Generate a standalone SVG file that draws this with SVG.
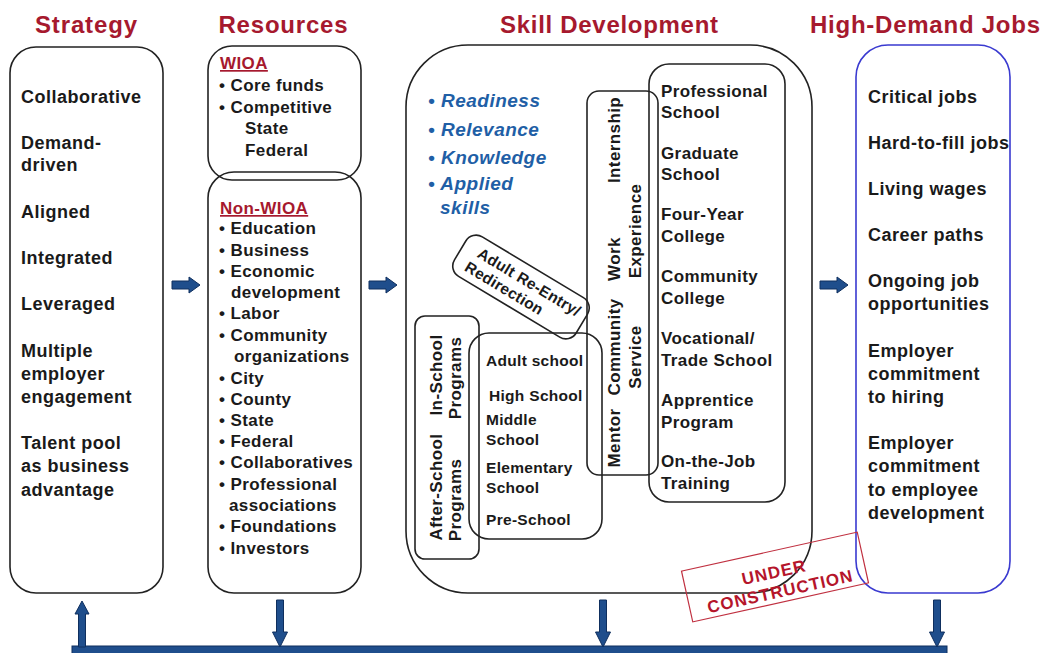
<svg xmlns="http://www.w3.org/2000/svg" xmlns:xlink="http://www.w3.org/1999/xlink" width="1046" height="653" viewBox="0 0 1046 653">
<style>
.hd{font-family:"Liberation Sans",Arial,sans-serif;font-weight:bold;font-size:24px;fill:#a6192e;text-anchor:middle}
.t{font-family:"Liberation Sans",Arial,sans-serif;font-weight:bold;font-size:18px;fill:#1a1a1a;letter-spacing:0.5px}
.r{font-family:"Liberation Sans",Arial,sans-serif;font-weight:bold;font-size:17px;fill:#1a1a1a;letter-spacing:0.4px}
.s{font-family:"Liberation Sans",Arial,sans-serif;font-weight:bold;font-size:15.5px;fill:#1a1a1a;letter-spacing:0.3px}
.v{font-family:"Liberation Sans",Arial,sans-serif;font-weight:bold;font-size:17px;fill:#1a1a1a;letter-spacing:0.4px;text-anchor:middle}
.red{fill:#a6192e;text-decoration:underline}
.bl{font-family:"Liberation Sans",Arial,sans-serif;font-weight:bold;font-style:italic;font-size:19px;fill:#1f5fa6;letter-spacing:0.5px}
.box{fill:none;stroke:#222;stroke-width:1.6}
.bbox{fill:none;stroke:#3a3ad0;stroke-width:1.6}
.arr{fill:#1f4e8c;stroke:#0f2f5e;stroke-width:1}
.stamp{font-family:"Liberation Sans",Arial,sans-serif;font-weight:bold;font-size:17px;fill:#b5152b;letter-spacing:1px;text-anchor:middle}
</style>
<defs>
<path id="harrow" d="M0,-4 H17 V-8 L28,0 L17,8 V4 H0 Z"/>
<path id="darrow" d="M-3.5,0 V32 H-7.5 L0,47 L7.5,32 H3.5 V0 Z"/>
</defs>
<rect width="1046" height="653" fill="#fff"/>

<g id="headings">
<text class="hd" x="86" y="33" textLength="102" lengthAdjust="spacing">Strategy</text>
<text class="hd" x="283" y="33" textLength="129" lengthAdjust="spacing">Resources</text>
<text class="hd" x="609" y="33" textLength="218" lengthAdjust="spacing">Skill Development</text>
<text class="hd" x="925" y="33" textLength="230" lengthAdjust="spacing">High-Demand  Jobs</text>
</g>

<g id="strategy">
<rect class="box" x="10" y="47" width="153" height="546" rx="26"/>
<text class="t" x="21" y="103">Collaborative</text>
<text class="t" x="21" y="149">Demand-</text>
<text class="t" x="21" y="171">driven</text>
<text class="t" x="21" y="218">Aligned</text>
<text class="t" x="21" y="264">Integrated</text>
<text class="t" x="21" y="310">Leveraged</text>
<text class="t" x="21" y="357">Multiple</text>
<text class="t" x="21" y="380">employer</text>
<text class="t" x="21" y="403">engagement</text>
<text class="t" x="21" y="449">Talent pool</text>
<text class="t" x="21" y="472">as business</text>
<text class="t" x="21" y="496">advantage</text>
</g>

<g id="wioa">
<rect class="box" x="208" y="46" width="153" height="134" rx="24"/>
<text class="r red" x="220" y="69">WIOA</text>
<text class="r" x="219" y="91">• Core funds</text>
<text class="r" x="219" y="113">• Competitive</text>
<text class="r" x="245" y="134">State</text>
<text class="r" x="245" y="156">Federal</text>
</g>

<g id="non-wioa">
<rect class="box" x="208" y="172" width="153" height="421" rx="26"/>
<text class="r red" x="220" y="214">Non-WIOA</text>
<text class="r" x="219" y="234">• Education</text>
<text class="r" x="219" y="256">• Business</text>
<text class="r" x="219" y="277">• Economic</text>
<text class="r" x="231" y="298">development</text>
<text class="r" x="219" y="319">• Labor</text>
<text class="r" x="219" y="341">• Community</text>
<text class="r" x="234" y="362">organizations</text>
<text class="r" x="219" y="384">• City</text>
<text class="r" x="219" y="405">• County</text>
<text class="r" x="219" y="426">• State</text>
<text class="r" x="219" y="447">• Federal</text>
<text class="r" x="219" y="468">• Collaboratives</text>
<text class="r" x="219" y="490">• Professional</text>
<text class="r" x="229" y="511">associations</text>
<text class="r" x="219" y="532">• Foundations</text>
<text class="r" x="219" y="554">• Investors</text>
</g>

<g id="skill-development">
<rect class="box" x="406" y="45" width="406" height="548" rx="62"/>
<text class="bl" x="428" y="107">• Readiness</text>
<text class="bl" x="428" y="136">• Relevance</text>
<text class="bl" x="428" y="164">• Knowledge</text>
<text class="bl" x="428" y="190">• Applied</text>
<text class="bl" x="440" y="214">skills</text>
</g>

<g id="post-secondary">
<rect class="box" x="649" y="64" width="136" height="438" rx="20"/>
<text class="r" x="661" y="97">Professional</text>
<text class="r" x="661" y="118">School</text>
<text class="r" x="661" y="159">Graduate</text>
<text class="r" x="661" y="180">School</text>
<text class="r" x="661" y="220">Four-Year</text>
<text class="r" x="661" y="242">College</text>
<text class="r" x="661" y="282">Community</text>
<text class="r" x="661" y="304">College</text>
<text class="r" x="661" y="344">Vocational/</text>
<text class="r" x="661" y="366">Trade School</text>
<text class="r" x="661" y="406">Apprentice</text>
<text class="r" x="661" y="428">Program</text>
<text class="r" x="661" y="467">On-the-Job</text>
<text class="r" x="661" y="489">Training</text>
</g>

<g id="work-experience">
<rect class="box" x="587" y="91" width="71" height="384" rx="12"/>
<text class="v" transform="translate(620,140) rotate(-90)">Internship</text>
<text class="v" transform="translate(620,259) rotate(-90)">Work</text>
<text class="v" transform="translate(620,347) rotate(-90)">Community</text>
<text class="v" transform="translate(620,438) rotate(-90)">Mentor</text>
<text class="v" transform="translate(641,231) rotate(-90)">Experience</text>
<text class="v" transform="translate(641,357) rotate(-90)">Service</text>
</g>

<g id="adult-reentry" transform="translate(521,287) rotate(31)">
<rect class="box" x="-71" y="-23" width="142" height="46" rx="12"/>
<text class="s" x="-54" y="-3">Adult Re-Entry/</text>
<text class="s" x="-58" y="15">Redirection</text>
</g>

<g id="programs">
<rect class="box" x="415" y="316" width="64" height="243" rx="10"/>
<text class="v" transform="translate(442,375) rotate(-90)">In-School</text>
<text class="v" transform="translate(461,378) rotate(-90)">Programs</text>
<text class="v" transform="translate(442,487) rotate(-90)">After-School</text>
<text class="v" transform="translate(461,500) rotate(-90)">Programs</text>
</g>

<g id="schools">
<rect class="box" x="469" y="333" width="133" height="206" rx="20"/>
<text class="s" x="486" y="366">Adult school</text>
<text class="s" x="489" y="401">High School</text>
<text class="s" x="486" y="425">Middle</text>
<text class="s" x="486" y="445">School</text>
<text class="s" x="486" y="473">Elementary</text>
<text class="s" x="486" y="493">School</text>
<text class="s" x="486" y="525">Pre-School</text>
</g>

<g id="high-demand-jobs">
<rect class="bbox" x="856" y="45" width="154" height="548" rx="32"/>
<text class="t" x="868" y="103">Critical jobs</text>
<text class="t" x="868" y="149">Hard-to-fill jobs</text>
<text class="t" x="868" y="195">Living wages</text>
<text class="t" x="868" y="241">Career paths</text>
<text class="t" x="868" y="287">Ongoing job</text>
<text class="t" x="868" y="310">opportunities</text>
<text class="t" x="868" y="357">Employer</text>
<text class="t" x="868" y="380">commitment</text>
<text class="t" x="868" y="403">to hiring</text>
<text class="t" x="868" y="449">Employer</text>
<text class="t" x="868" y="472">commitment</text>
<text class="t" x="868" y="496">to employee</text>
<text class="t" x="868" y="519">development</text>
</g>

<g id="connectors">
<use href="#harrow" class="arr" transform="translate(172,285)"/>
<use href="#harrow" class="arr" transform="translate(369,285)"/>
<use href="#harrow" class="arr" transform="translate(820,285)"/>
<rect class="arr" x="72" y="646" width="875" height="10"/>
<path class="arr" d="M78.5,647 V614 H75 L82,601 L89,614 H85.5 V647 Z"/>
<use href="#darrow" class="arr" transform="translate(280,600)"/>
<use href="#darrow" class="arr" transform="translate(603,600)"/>
<use href="#darrow" class="arr" transform="translate(937,600)"/>
</g>

<g id="under-construction" transform="translate(775,577) rotate(-12.5)">
<rect x="-90" y="-26" width="180" height="52" fill="none" stroke="#c03040" stroke-width="1.2"/>
<text class="stamp" x="0" y="1">UNDER</text>
<text class="stamp" x="2" y="21">CONSTRUCTION</text>
</g>
</svg>
